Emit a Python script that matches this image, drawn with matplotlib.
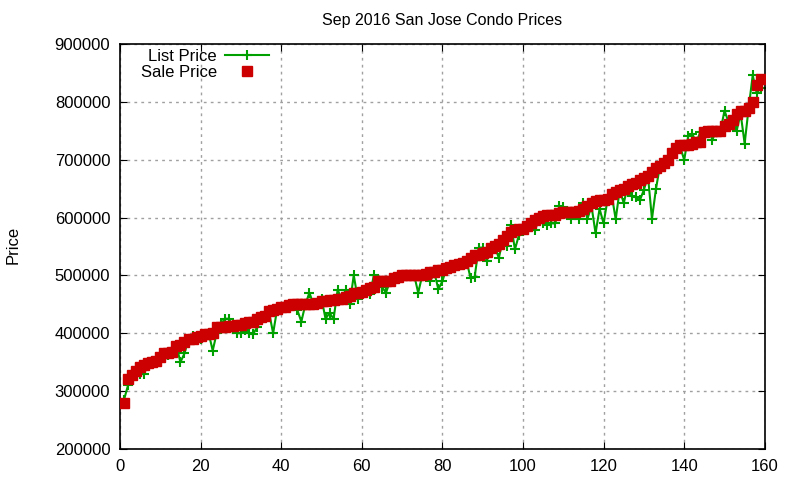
import matplotlib
matplotlib.use("Agg")
import matplotlib.pyplot as plt

# List and sale prices, one entry per condo (sorted by sale price)
list_price = [
    285000, 310000, 330000, 340000, 330000, 330000, 350000, 352000, 348000, 355000,
    365000, 362000, 370000, 378000, 350000, 365000, 390000, 395000, 392000, 390000,
    395000, 400000, 370000, 400000, 415000, 425000, 425000, 412000, 400000, 400000,
    405000, 400000, 398000, 410000, 425000, 430000, 435000, 400000, 442000, 445000,
    445000, 448000, 450000, 440000, 420000, 450000, 470000, 450000, 450000, 460000,
    425000, 435000, 425000, 475000, 460000, 475000, 450000, 500000, 460000, 470000,
    475000, 468000, 500000, 490000, 480000, 470000, 490000, 495000, 498000, 500000,
    500000, 500000, 500000, 470000, 500000, 502000, 490000, 505000, 476000, 490000,
    512000, 515000, 518000, 520000, 522000, 525000, 495000, 497000, 548000, 548000,
    525000, 548000, 550000, 530000, 562000, 550000, 588000, 545000, 570000, 580000,
    585000, 595000, 578000, 600000, 590000, 588000, 590000, 590000, 620000, 618000,
    610000, 598000, 610000, 598000, 625000, 598000, 620000, 573000, 615000, 590000,
    632000, 640000, 597000, 648000, 625000, 655000, 637000, 635000, 630000, 648000,
    672000, 598000, 650000, 690000, 695000, 700000, 714000, 720000, 722000, 700000,
    741000, 745000, 730000, 748000, 745000, 750000, 735000, 750000, 750000, 785000,
    765000, 768000, 750000, 780000, 728000, 790000, 846000, 815000, 825000,
]
sale_price = [
    280000, 320000, 328000, 335000, 342000, 345000, 348000, 350000, 352000, 358000,
    365000, 365000, 368000, 378000, 380000, 385000, 390000, 390000, 393000, 395000,
    398000, 398000, 400000, 410000, 410000, 410000, 412000, 412000, 415000, 415000,
    418000, 420000, 420000, 425000, 428000, 430000, 438000, 440000, 442000, 445000,
    445000, 448000, 450000, 450000, 450000, 450000, 450000, 450000, 452000, 455000,
    455000, 458000, 458000, 460000, 460000, 462000, 465000, 470000, 470000, 472000,
    475000, 478000, 480000, 490000, 490000, 490000, 490000, 495000, 498000, 500000,
    500000, 500000, 500000, 500000, 500000, 502000, 505000, 505000, 510000, 510000,
    512000, 515000, 518000, 520000, 522000, 525000, 530000, 535000, 535000, 538000,
    540000, 548000, 550000, 555000, 562000, 568000, 575000, 578000, 580000, 580000,
    585000, 590000, 595000, 600000, 602000, 605000, 605000, 605000, 608000, 610000,
    610000, 610000, 610000, 612000, 615000, 620000, 625000, 628000, 630000, 630000,
    632000, 640000, 645000, 648000, 650000, 655000, 658000, 660000, 665000, 668000,
    672000, 678000, 685000, 690000, 695000, 700000, 712000, 720000, 725000, 725000,
    725000, 728000, 730000, 730000, 748000, 750000, 750000, 750000, 750000, 758000,
    762000, 768000, 780000, 785000, 785000, 790000, 800000, 830000, 840000,
]
index = list(range(1, len(sale_price) + 1))

xticks = [0, 20, 40, 60, 80, 100, 120, 140, 160]
yticks = [200000, 300000, 400000, 500000, 600000, 700000, 800000, 900000]

plt.rcParams["font.family"] = ["Liberation Sans", "DejaVu Sans"]

fig = plt.figure(figsize=(8, 4.8), dpi=100)
ax = fig.add_axes([0.15, 0.065, 0.806, 0.843])

ax.plot(index, list_price, color="#00a000", lw=1.5, marker="+",
        markersize=7, markeredgewidth=1.5, label="List Price", zorder=2)
ax.plot(index, sale_price, color="#cc0000", ls="none", marker="s",
        markersize=6.5, label="Sale Price", zorder=3)

ax.set_xlim(0, 160)
ax.set_ylim(200000, 900000)
ax.set_xticks(xticks)
ax.set_yticks(yticks)
ax.tick_params(direction="in", top=True, right=True, labelsize=12, length=5,
               pad=7)
ax.grid(True, color="#a0a0a0", ls=(0, (2, 3)), lw=1)
for s in ax.spines.values():
    s.set_linewidth(1.2)

ax.set_title("Sep 2016 San Jose Condo Prices", fontsize=11.5, pad=14)
fig.text(0.016, 0.49, "Price", rotation=90, fontsize=12, ha="center",
         va="center")

ax.legend(loc="upper left", bbox_to_anchor=(0.017, 1.012), markerfirst=False,
          frameon=False, fontsize=12, handlelength=2.6, borderaxespad=0.2,
          labelspacing=0.05, handletextpad=0.5)

fig.savefig("out.png", dpi=100)
